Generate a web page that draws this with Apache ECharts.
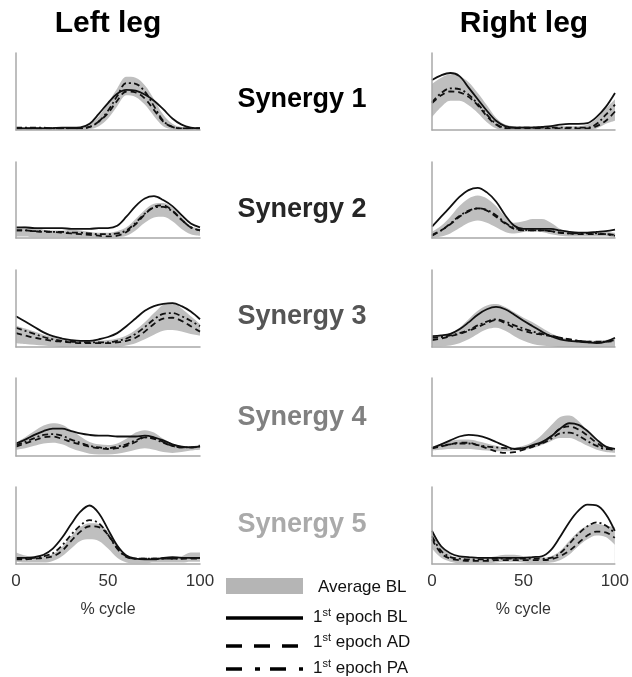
<!DOCTYPE html>
<html><head><meta charset="utf-8">
<script src="https://cdn.jsdelivr.net/npm/echarts/dist/echarts.min.js"></script>
<style>html,body{margin:0;padding:0;background:#fff}#c{width:632px;height:677px}</style>
</head><body><div id="c"></div>
<script>
// % cycle sample positions
const X = [0,5,10,15,20,25,30,35,40,45,50,55,60,65,70,75,80,85,90,95,100];
const xTicks = ['0','50','100'];
const synergyLabels = ['Synergy 1','Synergy 2','Synergy 3','Synergy 4','Synergy 5'];
const legLabels = ['Left leg','Right leg'];

// Left leg, Synergy 1
const L1_lo = [0,0,0,0,0,0,0,0,0.01,0.05,0.15,0.31,0.45,0.43,0.33,0.18,0.05,0.01,0,0,0];
const L1_hi = [0.04,0.04,0.04,0.04,0.04,0.04,0.04,0.04,0.08,0.18,0.35,0.54,0.69,0.68,0.58,0.4,0.2,0.08,0.04,0.04,0.04];
const L1_bl = [0.02,0.02,0.02,0.02,0.025,0.03,0.03,0.035,0.08,0.21,0.35,0.47,0.52,0.51,0.46,0.38,0.27,0.15,0.07,0.03,0.02];
const L1_ad = [0.02,0.02,0.02,0.02,0.02,0.02,0.02,0.02,0.04,0.11,0.22,0.38,0.5,0.49,0.41,0.26,0.11,0.04,0.02,0.02,0.02];
const L1_pa = [0.03,0.03,0.03,0.03,0.02,0.02,0.02,0.02,0.04,0.11,0.25,0.44,0.61,0.6,0.5,0.31,0.12,0.04,0.02,0.02,0.02];
// Right leg, Synergy 1
const R1_lo = [0.17,0.3,0.38,0.38,0.32,0.22,0.1,0.02,0,0,0,0,0,0,0,0,0,0,0.02,0.08,0.12];
const R1_hi = [0.6,0.68,0.72,0.7,0.62,0.48,0.32,0.16,0.07,0.05,0.05,0.05,0.05,0.05,0.05,0.05,0.05,0.07,0.15,0.28,0.4];
const R1_bl = [0.65,0.71,0.74,0.7,0.55,0.4,0.25,0.12,0.05,0.03,0.03,0.03,0.04,0.05,0.07,0.08,0.08,0.09,0.17,0.3,0.48];
const R1_ad = [0.35,0.45,0.5,0.49,0.43,0.32,0.18,0.07,0.02,0.02,0.02,0.02,0.02,0.02,0.02,0.02,0.02,0.02,0.05,0.12,0.24];
const R1_pa = [0.36,0.48,0.54,0.53,0.46,0.34,0.2,0.08,0.03,0.03,0.03,0.03,0.03,0.03,0.03,0.03,0.03,0.03,0.08,0.2,0.33];
// Left leg, Synergy 2
const L2_lo = [0.02,0.02,0.01,0.01,0.01,0.01,0,0,0,0,0,0.01,0.03,0.1,0.2,0.27,0.28,0.22,0.12,0.05,0.03];
const L2_hi = [0.13,0.15,0.14,0.11,0.1,0.1,0.11,0.1,0.08,0.07,0.07,0.09,0.14,0.25,0.37,0.45,0.46,0.4,0.28,0.16,0.12];
const L2_bl = [0.14,0.14,0.13,0.13,0.13,0.13,0.12,0.12,0.12,0.13,0.13,0.16,0.28,0.42,0.52,0.55,0.5,0.42,0.3,0.19,0.14];
const L2_ad = [0.1,0.1,0.09,0.08,0.08,0.07,0.06,0.05,0.04,0.03,0.02,0.03,0.08,0.18,0.31,0.41,0.43,0.36,0.24,0.14,0.1];
const L2_pa = [0.1,0.1,0.09,0.09,0.08,0.08,0.07,0.07,0.06,0.05,0.05,0.06,0.1,0.2,0.32,0.4,0.41,0.35,0.24,0.14,0.1];
// Right leg, Synergy 2
const R2_lo = [0,0.02,0.06,0.13,0.2,0.23,0.2,0.14,0.08,0.06,0.08,0.09,0.08,0.05,0.03,0.02,0.02,0.02,0.02,0.02,0.01];
const R2_hi = [0.08,0.16,0.28,0.42,0.52,0.56,0.52,0.42,0.28,0.2,0.22,0.25,0.25,0.2,0.12,0.08,0.08,0.08,0.08,0.08,0.07];
const R2_bl = [0.15,0.28,0.41,0.54,0.63,0.66,0.6,0.48,0.3,0.16,0.12,0.12,0.12,0.12,0.1,0.08,0.07,0.07,0.08,0.09,0.11];
const R2_ad = [0.03,0.1,0.18,0.28,0.35,0.39,0.36,0.28,0.19,0.12,0.1,0.1,0.1,0.09,0.07,0.06,0.05,0.05,0.05,0.05,0.04];
const R2_pa = [0.04,0.1,0.19,0.29,0.36,0.39,0.37,0.3,0.2,0.13,0.11,0.1,0.1,0.09,0.07,0.06,0.06,0.06,0.06,0.05,0.03];
// Left leg, Synergy 3
const L3_lo = [0.05,0.04,0.03,0.02,0.01,0,0,0,0,0,0,0,0.02,0.05,0.1,0.16,0.21,0.22,0.2,0.17,0.15];
const L3_hi = [0.28,0.24,0.2,0.16,0.13,0.1,0.09,0.08,0.08,0.08,0.09,0.11,0.15,0.22,0.32,0.44,0.55,0.58,0.5,0.4,0.3];
const L3_bl = [0.4,0.33,0.26,0.19,0.14,0.11,0.09,0.08,0.08,0.1,0.13,0.18,0.27,0.37,0.47,0.53,0.56,0.57,0.53,0.46,0.36];
const L3_ad = [0.18,0.15,0.12,0.1,0.08,0.07,0.06,0.05,0.05,0.05,0.05,0.06,0.08,0.12,0.2,0.3,0.37,0.38,0.34,0.27,0.2];
const L3_pa = [0.25,0.21,0.17,0.13,0.1,0.08,0.07,0.06,0.06,0.06,0.06,0.08,0.11,0.17,0.26,0.36,0.43,0.44,0.4,0.34,0.27];
// Right leg, Synergy 3
const R3_lo = [0.01,0.01,0.02,0.05,0.1,0.17,0.23,0.25,0.21,0.14,0.08,0.04,0.02,0.01,0,0,0,0,0,0,0];
const R3_hi = [0.13,0.15,0.18,0.25,0.36,0.47,0.54,0.56,0.52,0.45,0.38,0.32,0.25,0.18,0.13,0.1,0.08,0.08,0.08,0.09,0.11];
const R3_bl = [0.14,0.15,0.17,0.23,0.32,0.42,0.49,0.52,0.49,0.42,0.34,0.27,0.2,0.14,0.1,0.08,0.07,0.06,0.05,0.07,0.12];
const R3_ad = [0.09,0.11,0.14,0.17,0.21,0.26,0.31,0.35,0.31,0.25,0.21,0.18,0.16,0.14,0.12,0.1,0.08,0.07,0.07,0.07,0.08];
const R3_pa = [0.12,0.13,0.15,0.18,0.22,0.28,0.33,0.36,0.33,0.28,0.24,0.2,0.17,0.15,0.12,0.1,0.08,0.07,0.06,0.07,0.09];
// Left leg, Synergy 4
const L4_lo = [0.08,0.1,0.13,0.16,0.17,0.15,0.1,0.06,0.03,0.02,0.02,0.03,0.05,0.08,0.1,0.08,0.05,0.04,0.05,0.07,0.08];
const L4_hi = [0.17,0.24,0.32,0.39,0.42,0.4,0.33,0.25,0.18,0.15,0.14,0.16,0.22,0.3,0.33,0.3,0.22,0.16,0.13,0.12,0.15];
const L4_bl = [0.16,0.21,0.27,0.32,0.35,0.35,0.32,0.29,0.27,0.26,0.26,0.25,0.25,0.25,0.26,0.24,0.2,0.15,0.12,0.11,0.12];
const L4_ad = [0.12,0.16,0.2,0.24,0.25,0.22,0.18,0.15,0.12,0.1,0.09,0.1,0.13,0.18,0.24,0.23,0.18,0.13,0.11,0.11,0.13];
const L4_pa = [0.14,0.18,0.23,0.27,0.28,0.26,0.21,0.17,0.13,0.11,0.1,0.12,0.15,0.2,0.24,0.22,0.17,0.13,0.11,0.11,0.12];
// Right leg, Synergy 4
const R4_lo = [0.07,0.08,0.09,0.09,0.09,0.08,0.07,0.06,0.06,0.07,0.08,0.1,0.14,0.19,0.23,0.23,0.19,0.13,0.08,0.05,0.04];
const R4_hi = [0.12,0.16,0.19,0.21,0.21,0.19,0.16,0.13,0.11,0.11,0.13,0.18,0.27,0.39,0.5,0.52,0.45,0.32,0.19,0.12,0.1];
const R4_bl = [0.1,0.15,0.2,0.25,0.27,0.26,0.23,0.18,0.13,0.09,0.1,0.14,0.18,0.25,0.35,0.42,0.4,0.32,0.21,0.12,0.09];
const R4_ad = [0.1,0.12,0.15,0.17,0.17,0.14,0.1,0.06,0.04,0.05,0.08,0.12,0.17,0.25,0.35,0.38,0.34,0.26,0.17,0.1,0.08];
const R4_pa = [0.1,0.13,0.15,0.16,0.16,0.14,0.12,0.11,0.1,0.09,0.1,0.12,0.16,0.22,0.29,0.3,0.26,0.19,0.13,0.09,0.1];
// Left leg, Synergy 5
const L5_lo = [0.03,0.02,0.02,0.02,0.04,0.1,0.2,0.3,0.32,0.3,0.2,0.08,0.02,0.01,0.01,0.02,0.02,0.02,0.02,0.03,0.03];
const L5_hi = [0.15,0.11,0.09,0.1,0.13,0.22,0.36,0.48,0.53,0.52,0.42,0.25,0.11,0.07,0.07,0.08,0.08,0.07,0.1,0.15,0.15];
const L5_bl = [0.08,0.08,0.09,0.12,0.2,0.34,0.52,0.68,0.76,0.66,0.45,0.24,0.11,0.07,0.06,0.06,0.08,0.09,0.08,0.08,0.08];
const L5_ad = [0.06,0.06,0.07,0.08,0.1,0.17,0.3,0.42,0.49,0.48,0.38,0.21,0.1,0.07,0.07,0.07,0.07,0.07,0.07,0.07,0.07];
const L5_pa = [0.07,0.07,0.08,0.1,0.14,0.24,0.38,0.5,0.57,0.53,0.38,0.2,0.09,0.07,0.07,0.07,0.07,0.07,0.07,0.08,0.08];
// Right leg, Synergy 5
const R5_lo = [0.2,0.08,0.03,0.01,0.01,0.01,0.01,0.02,0.03,0.03,0.02,0.01,0.01,0.02,0.05,0.12,0.23,0.32,0.37,0.35,0.25];
const R5_hi = [0.45,0.24,0.12,0.08,0.07,0.07,0.08,0.1,0.12,0.12,0.1,0.08,0.08,0.1,0.17,0.3,0.42,0.5,0.52,0.5,0.48];
const R5_bl = [0.43,0.23,0.14,0.1,0.09,0.08,0.08,0.08,0.08,0.08,0.08,0.09,0.1,0.18,0.35,0.54,0.69,0.77,0.76,0.65,0.43];
const R5_ad = [0.32,0.14,0.07,0.05,0.04,0.04,0.04,0.05,0.05,0.05,0.05,0.05,0.05,0.06,0.1,0.17,0.27,0.37,0.42,0.41,0.34];
const R5_pa = [0.36,0.17,0.09,0.07,0.06,0.06,0.06,0.07,0.07,0.07,0.07,0.07,0.07,0.08,0.14,0.26,0.39,0.49,0.54,0.5,0.4];

const panelData = [
  [L1_lo,L1_hi,L1_bl,L1_ad,L1_pa],[R1_lo,R1_hi,R1_bl,R1_ad,R1_pa],
  [L2_lo,L2_hi,L2_bl,L2_ad,L2_pa],[R2_lo,R2_hi,R2_bl,R2_ad,R2_pa],
  [L3_lo,L3_hi,L3_bl,L3_ad,L3_pa],[R3_lo,R3_hi,R3_bl,R3_ad,R3_pa],
  [L4_lo,L4_hi,L4_bl,L4_ad,L4_pa],[R4_lo,R4_hi,R4_bl,R4_ad,R4_pa],
  [L5_lo,L5_hi,L5_bl,L5_ad,L5_pa],[R5_lo,R5_hi,R5_bl,R5_ad,R5_pa]
];

// layout
const colLeft = [16, 432], colWidth = [184, 183];
const rowTop = [53, 162, 270, 378, 487], rowH = [77, 76, 77, 78, 77];
const synY = [100, 210, 317, 418, 525];
const synColor = ['#000000', '#262626', '#555555', '#808080', '#aaaaaa'];
const FONT = '"Liberation Sans", Arial, sans-serif';
const axisCol = '#a8a8a8';

const grids = [], xAxes = [], yAxes = [], series = [];
panelData.forEach((p, i) => {
  const row = Math.floor(i / 2), col = i % 2;
  const [lo, hi, bl, ad, pa] = p;
  grids.push({left: colLeft[col], top: rowTop[row], width: colWidth[col], height: rowH[row]});
  const bottom = row === 4;
  xAxes.push({
    gridIndex: i, type: 'value', min: 0, max: 100, interval: 50, z: 10,
    axisLine: {show: true, lineStyle: {color: axisCol, width: 1.5}},
    axisTick: {show: false}, splitLine: {show: false},
    axisLabel: {show: bottom, fontSize: 17, color: '#333', margin: 9, fontFamily: FONT,
      formatter: v => xTicks[[0,50,100].indexOf(v)] || ''},
    name: bottom ? '% cycle' : '', nameLocation: 'middle', nameGap: 38,
    nameTextStyle: {fontSize: 16, color: '#333', fontFamily: FONT}
  });
  yAxes.push({
    gridIndex: i, type: 'value', min: 0, max: 1, z: 10,
    axisLine: {show: true, lineStyle: {color: axisCol, width: 1.5}},
    axisTick: {show: false}, axisLabel: {show: false}, splitLine: {show: false}
  });
  const base = {type: 'line', xAxisIndex: i, yAxisIndex: i, smooth: 0.35, symbol: 'none', silent: true};
  // band: upper edge filled grey down to the axis, lower edge masked white down to the axis
  series.push(Object.assign({}, base, {
    data: X.map((x, k) => [x, hi[k]]), lineStyle: {opacity: 0},
    areaStyle: {color: '#bfbfbf', opacity: 1, origin: 'start'}
  }));
  series.push(Object.assign({}, base, {
    data: X.map((x, k) => [x, lo[k]]), lineStyle: {opacity: 0},
    areaStyle: {color: '#ffffff', opacity: 1, origin: 'start'}
  }));
  series.push(Object.assign({}, base, {
    data: X.map((x, k) => [x, bl[k]]), lineStyle: {color: '#111', width: 1.8, type: 'solid'}
  }));
  series.push(Object.assign({}, base, {
    data: X.map((x, k) => [x, ad[k]]), lineStyle: {color: '#111', width: 1.8, type: [6, 4]}
  }));
  series.push(Object.assign({}, base, {
    data: X.map((x, k) => [x, pa[k]]), lineStyle: {color: '#111', width: 1.8, type: [6, 3, 2, 3]}
  }));
});

const graphics = [];
[108, 524].forEach((cx, j) => graphics.push({
  type: 'text', x: cx, y: 24, silent: true,
  style: {text: legLabels[j], textAlign: 'center', textVerticalAlign: 'middle',
    font: 'bold 30px ' + FONT, fill: '#000'}
}));
synergyLabels.forEach((t, j) => graphics.push({
  type: 'text', x: 302, y: synY[j], silent: true,
  style: {text: t, textAlign: 'center', textVerticalAlign: 'middle',
    font: 'bold 27px ' + FONT, fill: synColor[j]}
}));
// legend
graphics.push({type: 'rect', silent: true, shape: {x: 226, y: 578, width: 77, height: 16}, style: {fill: '#b5b5b5'}});
graphics.push({type: 'line', silent: true, shape: {x1: 226, y1: 618, x2: 303, y2: 618}, style: {stroke: '#000', lineWidth: 3.5}});
graphics.push({type: 'line', silent: true, shape: {x1: 226, y1: 646, x2: 303, y2: 646}, style: {stroke: '#000', lineWidth: 3.5, lineDash: [16, 12]}});
graphics.push({type: 'line', silent: true, shape: {x1: 226, y1: 669, x2: 303, y2: 669}, style: {stroke: '#000', lineWidth: 3.5, lineDash: [16, 13, 5, 10]}});
const legItems = [
  {y: 587, text: 'Average BL', x: 318},
  {y: 617, text: '{n|1}{s|st}{n| epoch BL}', x: 313},
  {y: 642, text: '{n|1}{s|st}{n| epoch AD}', x: 313},
  {y: 668, text: '{n|1}{s|st}{n| epoch PA}', x: 313}
];
legItems.forEach(it => graphics.push({
  type: 'text', x: it.x, y: it.y, silent: true,
  style: {text: it.text, textAlign: 'left', textVerticalAlign: 'middle',
    font: '17px ' + FONT, fill: '#111',
    rich: {n: {fontSize: 17, fontFamily: FONT, fill: '#111', lineHeight: 20},
           s: {fontSize: 11, fontFamily: FONT, fill: '#111', verticalAlign: 'top', lineHeight: 20, padding: [0, 0, 6, 0]}}}
}));

const chart = echarts.init(document.getElementById('c'), null, {renderer: 'canvas'});
chart.setOption({
  animation: false,
  backgroundColor: '#fff',
  grid: grids, xAxis: xAxes, yAxis: yAxes, series: series,
  graphic: graphics
});
</script>
</body></html>
